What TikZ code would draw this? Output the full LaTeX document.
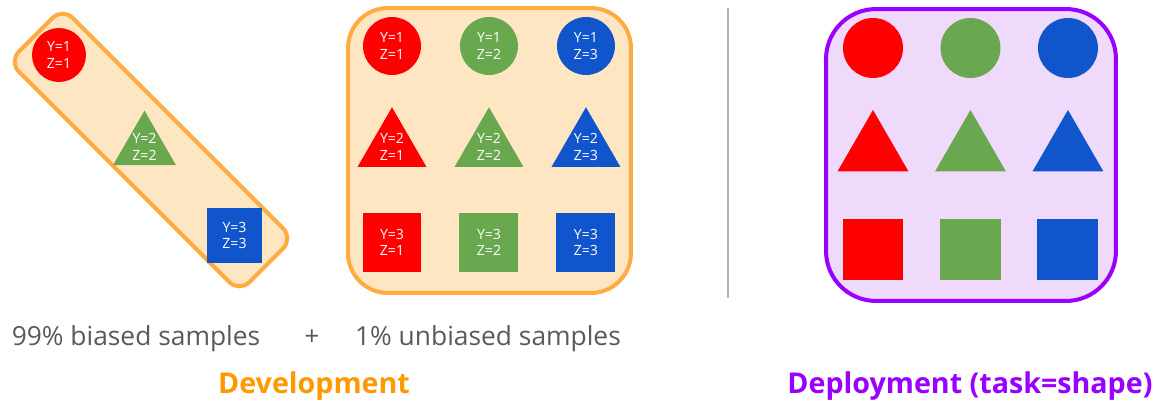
\documentclass[tikz,border=0pt]{standalone}
\usepackage{fontspec}
\setmainfont{Open Sans}
\usetikzlibrary{shapes.geometric}

\definecolor{cred}{HTML}{FF0000}
\definecolor{cgreen}{HTML}{6AA84F}
\definecolor{cblue}{HTML}{1155CC}
\definecolor{devline}{HTML}{FFAB40}
\definecolor{devfill}{HTML}{FFE6C2}
\definecolor{devtext}{HTML}{FF9900}
\definecolor{depline}{HTML}{9900FF}
\definecolor{depfill}{HTML}{F0DAFC}
\definecolor{captext}{HTML}{595959}

\tikzset{
	ball/.style={circle, fill=#1, inner sep=0pt},
	tri/.style={regular polygon, regular polygon sides=3, fill=#1, inner sep=0pt},
	box/.style={rectangle, fill=#1, inner sep=0pt},
	yz/.style={text=white, align=center, font=\fontsize{8}{9.5}\selectfont},
	panel/.style={draw=#1, line width=0.08cm},
	caption/.style={text=captext, anchor=base, font=\fontsize{15}{18}\selectfont},
	heading/.style={anchor=base, font=\bfseries\fontsize{16.3}{20}\selectfont},
}

\begin{document}
\begin{tikzpicture}[x=0.02cm, y=-0.02cm, node distance=1.95cm]
	\useasboundingbox (0,0) rectangle (1161,405);

		% groups
		\node(biased)   [panel=devline, fill=devfill, rotate=-45, rounded corners=0.28cm,
		                 minimum width=6.52cm, minimum height=1.52cm] at (151,150) {};
		\node(unbiased) [panel=devline, fill=devfill, rounded corners=0.8cm,
		                 minimum width=5.66cm, minimum height=5.7cm] at (489.5,150.5) {};
		\node(deploy)   [panel=depline, fill=depfill, rounded corners=1cm,
		                 minimum width=5.8cm, minimum height=5.84cm] at (971,155) {};

		% biased samples
		\node(b_1) [ball=cred, minimum size=1.08cm, label={[yz]center:Y=1\\Z=1}] at (59,55) {};
		\node(b_2) [tri=cgreen, minimum size=1.455cm, label={[yz]center:Y=2\\Z=2}] at (144.5,147) {};
		\node(b_3) [box=cblue, minimum size=1.1cm, label={[yz]center:Y=3\\Z=3}] at (234.5,235.5) {};

		% unbiased samples
		\node(u_11) [ball=cred, minimum size=1.16cm, label={[yz]center:Y=1\\Z=1}] at (392,46) {};
		\node(u_12) [ball=cgreen, minimum size=1.16cm, label={[yz]center:Y=1\\Z=2}, right of = u_11, node distance=1.94cm] {};
		\node(u_13) [ball=cblue, minimum size=1.16cm, label={[yz]center:Y=1\\Z=3}, right of = u_12, node distance=1.94cm] {};
		\node(u_21) [tri=cred, minimum size=1.59cm, label={[yz]center:Y=2\\Z=1}, below of = u_11, node distance=2.02cm] {};
		\node(u_22) [tri=cgreen, minimum size=1.59cm, label={[yz]center:Y=2\\Z=2}, below of = u_12, node distance=2.02cm] {};
		\node(u_23) [tri=cblue, minimum size=1.59cm, label={[yz]center:Y=2\\Z=3}, below of = u_13, node distance=2.02cm] {};
		\node(u_31) [box=cred, minimum size=1.18cm, label={[yz]center:Y=3\\Z=1}, below of = u_21, node distance=1.91cm] {};
		\node(u_32) [box=cgreen, minimum size=1.18cm, label={[yz]center:Y=3\\Z=2}, below of = u_22, node distance=1.91cm] {};
		\node(u_33) [box=cblue, minimum size=1.18cm, label={[yz]center:Y=3\\Z=3}, below of = u_23, node distance=1.91cm] {};

		% deployment samples
		\node(d_11) [ball=cred, minimum size=1.2cm] at (873,48) {};
		\node(d_12) [ball=cgreen, minimum size=1.2cm, right of = d_11] {};
		\node(d_13) [ball=cblue, minimum size=1.2cm, right of = d_12] {};
		\node(d_21) [tri=cred, minimum size=1.64cm, below of = d_11, node distance=2.06cm] {};
		\node(d_22) [tri=cgreen, minimum size=1.64cm, below of = d_12, node distance=2.06cm] {};
		\node(d_23) [tri=cblue, minimum size=1.64cm, below of = d_13, node distance=2.06cm] {};
		\node(d_31) [box=cred, minimum size=1.22cm, below of = d_21, node distance=1.97cm] {};
		\node(d_32) [box=cgreen, minimum size=1.22cm, below of = d_22, node distance=1.97cm] {};
		\node(d_33) [box=cblue, minimum size=1.22cm, below of = d_23, node distance=1.97cm] {};

		% divider
		\coordinate(top) at (728,8);
		\coordinate(bottom) at (728,298);
		\draw[gray!60, line width=0.85pt] (top) -- (bottom);

		% captions
		\node(biasedcap)   [caption] at (136,346) {99\% biased samples};
		\node(plus)        [caption] at (312,346) {+};
		\node(unbiasedcap) [caption] at (488,346) {1\% unbiased samples};
		\node(devtitle)    [heading, text=devtext] at (314,394) {Development};
		\node(deptitle)    [heading, text=depline] at (970,394) {Deployment (task=shape)};
	\end{tikzpicture}
\end{document}
